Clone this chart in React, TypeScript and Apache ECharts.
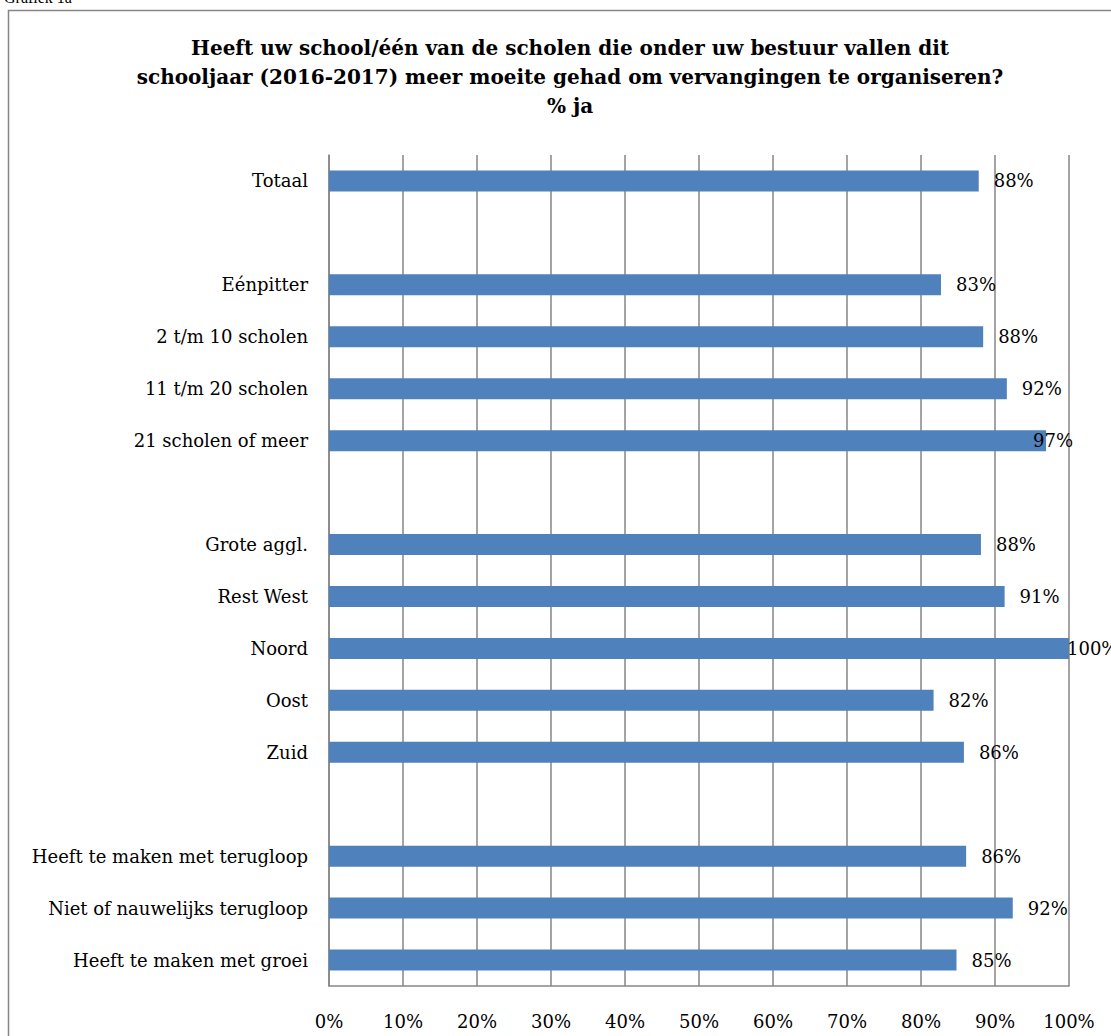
import React, { useEffect, useRef } from "react";
import * as echarts from "echarts";

const titleLines = [
  "Heeft uw school/één van de scholen die onder uw bestuur vallen dit",
  "schooljaar (2016-2017) meer moeite gehad om vervangingen te organiseren?",
  "% ja",
];

const categories = [
  "Totaal",
  " ",
  "Eénpitter",
  "2 t/m 10 scholen",
  "11 t/m 20 scholen",
  "21 scholen of meer",
  "  ",
  "Grote aggl.",
  "Rest West",
  "Noord",
  "Oost",
  "Zuid",
  "   ",
  "Heeft te maken met terugloop",
  "Niet of nauwelijks terugloop",
  "Heeft te maken met groei",
];

const values: (number | null)[] = [
  87.8, null, 82.7, 88.4, 91.6, 96.9, null, 88.1, 91.3, 100, 81.7, 85.8, null, 86.1, 92.4, 84.8,
];

const xTicks = { min: 0, max: 100, interval: 10 };

const FONT = "'DejaVu Serif', serif";

export default function App() {
  const ref = useRef<HTMLDivElement>(null);
  useEffect(() => {
    document.body.style.margin = "0";
    const chart = echarts.init(ref.current!, null, { renderer: "svg" });
    const data = values.map((v) => {
      if (v == null) return null;
      const item: any = { value: v };
      if (v > 96 && v < 99) item.label = { offset: [-28, 0] };
      if (v >= 99.5) item.label = { offset: [-17, 0] };
      return item;
    });
    chart.setOption({
      animation: false,
      backgroundColor: "#ffffff",
      graphic: [
        {
          type: "rect",
          shape: { x: 8.5, y: 10.5, width: 1130, height: 1040 },
          style: { fill: "none", stroke: "#868686", lineWidth: 1.5 },
        },
        {
          type: "text",
          x: 4,
          y: 5,
          style: {
            text: "Grafiek 1a",
            font: `16px 'Liberation Serif', serif`,
            fill: "#000",
            textVerticalAlign: "bottom",
          },
        },
        {
          type: "text",
          x: 570,
          y: 33,
          style: {
            text: titleLines.join("\n"),
            font: `bold 20px ${FONT}`,
            fill: "#000",
            textAlign: "center",
            lineHeight: 29,
          },
        },
      ],
      grid: { left: 329, top: 155, width: 740, height: 831 },
      xAxis: {
        type: "value",
        min: xTicks.min,
        max: xTicks.max,
        interval: xTicks.interval,
        axisLabel: {
          formatter: "{value}%",
          fontFamily: FONT,
          fontSize: 18,
          color: "#000",
          margin: 26,
        },
        axisLine: { show: true, lineStyle: { color: "#868686", width: 1.5 } },
        axisTick: { show: false },
        splitLine: { show: true, lineStyle: { color: "#868686", width: 1.5 } },
      },
      yAxis: {
        type: "category",
        data: categories,
        inverse: true,
        axisLabel: {
          fontFamily: FONT,
          fontSize: 18,
          color: "#000",
          margin: 21,
        },
        axisLine: { show: true, lineStyle: { color: "#868686", width: 1.5 } },
        axisTick: { show: false },
        splitLine: { show: false },
      },
      series: [
        {
          type: "bar",
          data,
          barWidth: 21,
          itemStyle: { color: "#4f81bd" },
          label: {
            show: true,
            position: "right",
            distance: 15,
            fontFamily: FONT,
            fontSize: 18,
            color: "#000",
            formatter: (p: any) => `${Math.round(p.value)}%`,
          },
        },
      ],
    });
    return () => chart.dispose();
  }, []);
  return (
    <div
      ref={ref}
      style={{ position: "absolute", left: 0, top: 0, width: 1111, height: 1036 }}
    />
  );
}
